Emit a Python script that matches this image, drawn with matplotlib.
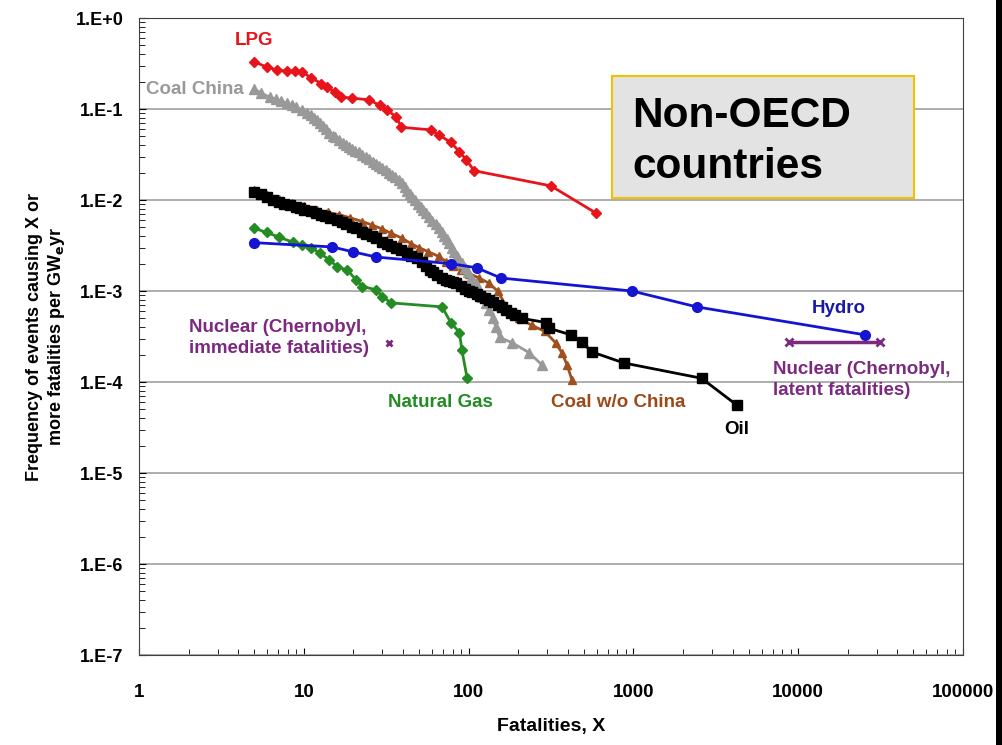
import matplotlib
matplotlib.use("Agg")
import matplotlib.pyplot as plt
from matplotlib.patches import Rectangle

# valores (fatalidades X, frequencia por GWe.ano)
lpg_x = [5, 5.95, 6.85, 7.9, 8.9, 9.8, 11.1, 12.8, 13.9, 15.4, 16.9, 19.5, 25, 28.8, 32, 36.5, 39,
         59, 66, 78, 88, 97, 108, 316, 592]
lpg_y = [0.33, 0.29, 0.27, 0.26, 0.26, 0.255, 0.22, 0.19, 0.175, 0.154, 0.135, 0.132, 0.126, 0.11,
         0.097, 0.082, 0.063, 0.059, 0.052, 0.043, 0.034, 0.0275, 0.021, 0.0143, 0.0072]

coal_china_x = [5, 5.5, 6.2, 6.8, 7.3, 7.9, 8.5, 9, 9.8, 10.5, 11, 11.5, 12, 12.5, 13, 13.6, 14.3,
                15, 15.5, 16.3, 17.2, 18, 18.8, 19.6, 20.5, 21.5, 22.7, 23.8, 25, 26.3, 27.5, 28.7,
                30, 31.5, 33, 34.5, 36, 38, 39.5, 41, 42.5, 44, 45.5, 47.5, 49.5, 51.5, 53, 55,
                57.5, 60, 63, 66, 68.5, 71, 73.5, 76, 79, 82, 85, 88, 91, 95, 99, 103, 107, 111,
                116, 121, 127, 133, 140, 147, 154, 184, 233, 279]
coal_china_y = [0.166, 0.15, 0.135, 0.128, 0.122, 0.116, 0.11, 0.105, 0.0975, 0.09, 0.085, 0.08,
                0.0757, 0.071, 0.065, 0.06, 0.0545, 0.051, 0.049, 0.046, 0.0423, 0.04, 0.038,
                0.0365, 0.035, 0.0335, 0.0312, 0.0295, 0.028, 0.0265, 0.025, 0.0238, 0.0225,
                0.0212, 0.02, 0.019, 0.0178, 0.0166, 0.0152, 0.0138, 0.0126, 0.0116, 0.0108,
                0.0099, 0.0091, 0.0084, 0.0078, 0.0072, 0.0065, 0.0059, 0.0054, 0.0049, 0.0044,
                0.004, 0.0037, 0.00337, 0.003, 0.0027, 0.0024, 0.0022, 0.00203, 0.0018, 0.0016,
                0.0014, 0.0013, 0.00122, 0.001, 0.00085, 0.00073, 0.00062, 0.0005, 0.0004,
                0.00031, 0.00027, 0.00021, 0.000154]

oil_x = [5, 5.5, 6, 6.5, 7.1, 7.6, 8.2, 9, 9.5, 10, 11, 11.9, 12.8, 13.5, 14.5, 15.8, 17, 18, 19.5,
         20.8, 22.5, 24, 26, 27.6, 30, 32, 34, 36.5, 39, 42, 45, 48.3, 52, 55, 58, 61, 64, 69, 73,
         76, 80, 84, 90, 95, 100, 105, 112, 118, 125, 133, 141, 150, 160, 169, 180, 190, 211, 296,
         307, 418, 487, 560, 875, 2590, 4230]
oil_y = [0.01225, 0.0115, 0.0108, 0.0101, 0.0095, 0.0091, 0.0088, 0.0084, 0.0081, 0.0078, 0.0075,
         0.0072, 0.0069, 0.0066, 0.0063, 0.006, 0.0057, 0.0054, 0.0051, 0.0049, 0.0045, 0.0042,
         0.004, 0.0038, 0.0035, 0.0033, 0.0031, 0.003, 0.0028, 0.0026, 0.0024, 0.0023, 0.0021,
         0.0019, 0.0017, 0.0016, 0.0015, 0.00139, 0.00133, 0.0013, 0.00126, 0.00122, 0.00113,
         0.00105, 0.001, 0.00097, 0.00092, 0.00088, 0.00084, 0.0008, 0.00075, 0.0007, 0.00066,
         0.00062, 0.00058, 0.00055, 0.0005, 0.00045, 0.00039, 0.00033, 0.000275, 0.000214,
         0.000162, 0.00011, 0.000056]

coal_oecd_x = [5, 6, 7.1, 8.5, 10, 12, 14, 16.4, 19, 22.7, 26, 30, 34, 39.5, 45, 50, 57, 66, 73,
               80, 90, 101, 115, 133, 150, 176, 202, 242, 290, 337, 368, 396, 424]
coal_oecd_y = [0.0128, 0.0114, 0.0102, 0.0092, 0.0085, 0.0078, 0.0073, 0.0069, 0.0064, 0.0058,
               0.0053, 0.0048, 0.0043, 0.0038, 0.0033, 0.003, 0.0027, 0.0024, 0.0021, 0.0019,
               0.0017, 0.00155, 0.0014, 0.00122, 0.001, 0.0006, 0.0005, 0.00042, 0.00036,
               0.00027, 0.00021, 0.000154, 0.000105]

gas_x = [5, 5.95, 7.1, 8.55, 9.8, 11.1, 12.5, 14.3, 16, 18.4, 20.8, 22.7, 27.6, 30, 34, 69, 78, 88,
         91, 98]
gas_y = [0.0049, 0.0044, 0.0039, 0.00345, 0.0032, 0.003, 0.0026, 0.0022, 0.00184, 0.0017, 0.00132,
         0.00112, 0.00103, 0.00086, 0.00074, 0.00067, 0.00045, 0.00035, 0.000225, 0.00011]

hydro_x = [5, 14.9, 19.8, 27.6, 78, 112, 157, 980, 2420, 25400]
hydro_y = [0.0034, 0.00305, 0.0027, 0.00236, 0.002, 0.0018, 0.00139, 0.001, 0.00067, 0.00033]

nuc_imm_x = [33]
nuc_imm_y = [0.00027]
nuc_lat_x = [8750, 31400]
nuc_lat_y = [0.000275, 0.000275]

y_ticks = [1, 1e-1, 1e-2, 1e-3, 1e-4, 1e-5, 1e-6, 1e-7]
y_labels = ["1.E+0", "1.E-1", "1.E-2", "1.E-3", "1.E-4", "1.E-5", "1.E-6", "1.E-7"]
x_ticks = [1, 10, 100, 1000, 10000, 100000]
x_labels = ["1", "10", "100", "1000", "10000", "100000"]

arial = ['Liberation Sans', 'DejaVu Sans']

fig = plt.figure(figsize=(10.03, 7.45), dpi=100)
ax = fig.add_axes([0.1386, 0.1208, 0.8215, 0.855])
ax.set_xscale('log')
ax.set_yscale('log')
ax.set_xlim(1, 100000)
ax.set_ylim(1e-7, 1)

ax.plot(coal_oecd_x, coal_oecd_y, color='#a0501e', marker='^', ms=6, lw=2, zorder=3)
ax.plot(coal_china_x, coal_china_y, color='#999999', marker='^', ms=7, lw=2, zorder=4)
ax.plot(oil_x, oil_y, color='black', marker='s', ms=7.5, lw=2, zorder=5)
ax.plot(gas_x, gas_y, color='#238c23', marker='D', ms=5, lw=2, zorder=6)
ax.plot(hydro_x, hydro_y, color='#1414d2', marker='o', ms=7, lw=2, zorder=7)
ax.plot(lpg_x, lpg_y, color='#e8141c', marker='D', ms=5.5, lw=2, zorder=8)
ax.plot(nuc_imm_x, nuc_imm_y, color='#7b2a80', marker='x', ms=5, mew=2, ls='none', zorder=8)
ax.plot(nuc_lat_x, nuc_lat_y, color='#7b2a80', marker='x', ms=6, mew=2, lw=2.5, zorder=8)

# rotulos das series
lbl = dict(family=arial, fontweight='bold', fontsize=13.5)
ax.text(5.0, 0.57, "LPG", color='#e8141c', ha='center', va='center', **lbl)
ax.text(4.3, 0.162, "Coal China", color='#999999', ha='right', va='center', **lbl)
ax.text(2.0, 3.05e-4, "Nuclear (Chernobyl,\nimmediate fatalities)", color='#7b2a80',
        ha='left', va='center', linespacing=1.3, **lbl)
ax.text(67.6, 6.0e-5, "Natural Gas", color='#238c23', ha='center', va='center', **lbl)
ax.text(811, 6.0e-5, "Coal w/o China", color='#9c4a1a', ha='center', va='center', **lbl)
ax.text(4250, 2.97e-5, "Oil", color='black', ha='center', va='center', **lbl)
ax.text(17700, 6.5e-4, "Hydro", color='#1a1aa8', ha='center', va='center', **lbl)
ax.text(7050, 1.05e-4, "Nuclear (Chernobyl,\nlatent fatalities)", color='#7b2a80',
        ha='left', va='center', linespacing=1.3, **lbl)

ax.set_yticks(y_ticks)
ax.set_yticklabels(y_labels, family=arial, fontweight='bold', fontsize=13)
ax.set_xticks(x_ticks)
ax.set_xticklabels(x_labels, family=arial, fontweight='bold', fontsize=13.5)
ax.tick_params(which='both', direction='in')
ax.tick_params(axis='y', which='major', length=5, pad=11)
ax.tick_params(axis='x', which='major', length=5, pad=21)
ax.tick_params(which='minor', length=4)
ax.grid(axis='y', which='major', color='#a0a0a0', lw=1.2)
for s in ax.spines.values():
    s.set_color('#404040')

ax.set_xlabel("Fatalities, X", family=arial, fontweight='bold', fontsize=14, labelpad=12)
ax.set_ylabel("Frequency of events causing X or\nmore fatalities per GW$_\\mathbf{e}$yr",
              family=arial, fontweight='bold', fontsize=13)
ax.yaxis.set_label_coords(-0.088, 0.5)

# caixa Non-OECD
fig.patches.append(Rectangle((0.610, 0.734), 0.301, 0.1638, transform=fig.transFigure,
                             facecolor='#e3e3e3', edgecolor='#f2c200', lw=1.5, zorder=10))
fig.text(0.630, 0.8295, "Non-OECD", family=arial, fontweight='bold', fontsize=30.5,
         va='baseline', zorder=11)
fig.text(0.630, 0.761, "countries", family=arial, fontweight='bold', fontsize=30.5,
         va='baseline', zorder=11)

# faixa preta na borda direita
fig.patches.append(Rectangle((0.993, 0), 0.007, 1, transform=fig.transFigure,
                             facecolor='black', edgecolor='none'))

fig.savefig('out.png', dpi=100)
